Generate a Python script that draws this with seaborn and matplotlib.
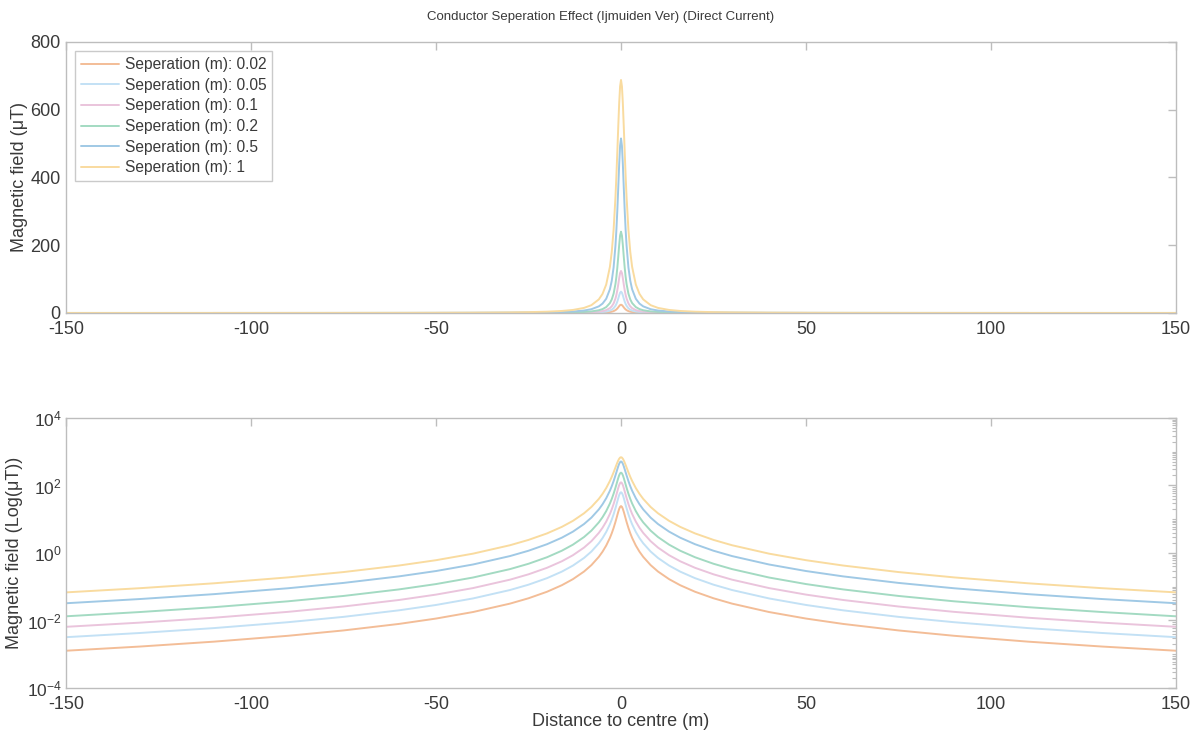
import numpy as np
import pandas as pd
import matplotlib
matplotlib.use("Agg")
import matplotlib.pyplot as plt
import matplotlib.ticker as mticker
import seaborn as sns

# ---- data (profiles are symmetric about x = 0) ----
distance_half = [0, 0.25, 0.5, 0.75, 1, 1.25, 1.5, 2, 2.5, 3, 4, 5, 6, 8, 10, 13, 16,
                 20, 25, 30, 40, 50, 60, 75, 90, 110, 130, 150]

sep_labels = ["Seperation (m): 0.02", "Seperation (m): 0.05", "Seperation (m): 0.1",
              "Seperation (m): 0.2", "Seperation (m): 0.5", "Seperation (m): 1"]

field_sep_002 = [24.51, 23.26, 20.17, 16.52, 13.18, 10.46, 8.350, 5.520, 3.845, 2.804, 1.661,
                 1.089, 0.7669, 0.4374, 0.2817, 0.1675, 0.1108, 0.0710, 0.0455, 0.0316, 0.0178,
                 0.0114, 0.00791, 0.00507, 0.00352, 0.00236, 0.00169, 0.00127]
field_sep_005 = [63.0, 59.73, 51.69, 42.22, 33.60, 26.61, 21.22, 14.00, 9.739, 7.099, 4.200,
                 2.754, 1.938, 1.105, 0.7119, 0.4232, 0.2800, 0.1795, 0.1150, 0.0799, 0.0450,
                 0.0288, 0.0200, 0.0128, 0.00889, 0.00595, 0.00426, 0.00320]
field_sep_01 = [124.0, 117.8, 102.3, 83.93, 67.07, 53.30, 42.60, 28.20, 19.66, 14.35, 8.500,
                5.577, 3.927, 2.240, 1.443, 0.8579, 0.5677, 0.3639, 0.2332, 0.1620, 0.0912,
                0.0584, 0.0405, 0.02595, 0.01802, 0.01207, 0.00864, 0.00649]
field_sep_02 = [240.0, 228.6, 200.0, 165.5, 133.3, 106.7, 85.71, 57.14, 40.0, 29.27, 17.39,
                11.43, 8.054, 4.598, 2.963, 1.762, 1.166, 0.7477, 0.4790, 0.3329, 0.1874,
                0.1199, 0.0833, 0.0533, 0.0370, 0.0248, 0.0178, 0.0133]
field_sep_05 = [515.2, 493.4, 437.9, 368.8, 302.0, 245.0, 199.1, 134.8, 95.2, 70.08, 41.91,
                27.63, 19.51, 11.16, 7.198, 4.284, 2.836, 1.819, 1.165, 0.8098, 0.4559,
                0.2918, 0.2027, 0.1297, 0.0901, 0.0603, 0.0432, 0.0324]
field_sep_1 = [688.0, 669.0, 618.0, 549.0, 474.6, 404.0, 342.0, 245.8, 180.5, 136.3, 83.96,
               56.2, 40.03, 23.1, 14.97, 8.94, 5.93, 3.80, 2.44, 1.696, 0.955, 0.611, 0.425,
               0.272, 0.189, 0.1264, 0.0905, 0.068]

x_ticks = [-150, -100, -50, 0, 50, 100, 150]
lin_yticks = [0, 200, 400, 600, 800]
log_yticks = [1e-4, 1e-2, 1e0, 1e2, 1e4]

colors = ["#F3BD97", "#C3E1F5", "#EAC4DC", "#A3DAC2", "#A0C9E5", "#F9DB9F"]

# ---- build long-form table ----
all_fields = [field_sep_002, field_sep_005, field_sep_01, field_sep_02, field_sep_05, field_sep_1]
xh = np.array(distance_half, dtype=float)
x_full = np.concatenate([-xh[::-1][:-1], xh])
rows = []
for lab, f in zip(sep_labels, all_fields):
    fh = np.array(f, dtype=float)
    f_full = np.concatenate([fh[::-1][:-1], fh])
    rows.append(pd.DataFrame({"x": x_full, "B": f_full, "sep": lab}))
df = pd.concat(rows, ignore_index=True)

# ---- style ----
sns.set_theme(style="white")
plt.rcParams["font.family"] = ["Liberation Sans", "DejaVu Sans"]
plt.rcParams["mathtext.default"] = "regular"
text_col = "#3A3A3A"
spine_col = "#BDBDBD"

fig = plt.figure(figsize=(12.02, 7.42), dpi=100)
ax1 = fig.add_axes([0.0549, 0.5782, 0.9235, 0.3652])
ax2 = fig.add_axes([0.0549, 0.0728, 0.9235, 0.3639])

palette = dict(zip(sep_labels, colors))
for ax in (ax1, ax2):
    sns.lineplot(data=df, x="x", y="B", hue="sep", palette=palette, hue_order=sep_labels,
                 estimator=None, linewidth=1.4, ax=ax, legend=(ax is ax1))
    ax.set_xlim(-150, 150)
    ax.set_xticks(x_ticks)
    ax.set_xticklabels([str(t) for t in x_ticks])
    for s in ax.spines.values():
        s.set_color(spine_col)
        s.set_linewidth(1.0)
    ax.tick_params(axis="both", which="both", direction="in", top=True, right=True,
                   color=spine_col, labelcolor=text_col, labelsize=13)
    ax.tick_params(axis="both", which="major", length=6, width=1.0)
    ax.tick_params(axis="x", which="major", pad=6)
    ax.tick_params(axis="y", which="major", pad=4)
    ax.set_xlabel("")

ax1.set_ylim(0, 800)
ax1.set_yticks(lin_yticks)
ax1.set_ylabel("Magnetic field (μT)", fontsize=13, color=text_col)
ax1.yaxis.set_label_coords(-0.034, 0.5)

ax2.set_yscale("log")
ax2.set_ylim(1e-4, 1e4)
ax2.yaxis.set_major_locator(mticker.FixedLocator(log_yticks))
ax2.yaxis.set_major_formatter(mticker.LogFormatterSciNotation())
ax2.yaxis.set_minor_locator(mticker.LogLocator(base=10, subs=np.arange(1, 10), numticks=100))
ax2.yaxis.set_minor_formatter(mticker.NullFormatter())
ax2.tick_params(axis="y", which="minor", length=3, width=0.8, color=spine_col)
ax2.tick_params(axis="y", which="major", labelsize=12.5, pad=3)
ax2.set_ylabel("Magnetic field (Log(μT))", fontsize=13, color=text_col)
ax2.yaxis.set_label_coords(-0.039, 0.5)
ax2.set_xlabel("Distance to centre (m)", fontsize=13, color=text_col, labelpad=0)

leg = ax1.legend(loc="upper left", fontsize=11.2, frameon=True, fancybox=False,
                 handlelength=2.4, borderpad=0.38, labelspacing=0.36, handletextpad=0.4,
                 borderaxespad=0.6)
leg.get_frame().set_edgecolor(spine_col)
leg.get_frame().set_linewidth(1.0)
for t in leg.get_texts():
    t.set_color(text_col)
for l in leg.get_lines():
    l.set_linewidth(1.4)

fig.suptitle("Conductor Seperation Effect (Ijmuiden Ver) (Direct Current)", fontsize=9.5,
             color=text_col, y=0.985)

fig.savefig("out.png", dpi=100)
